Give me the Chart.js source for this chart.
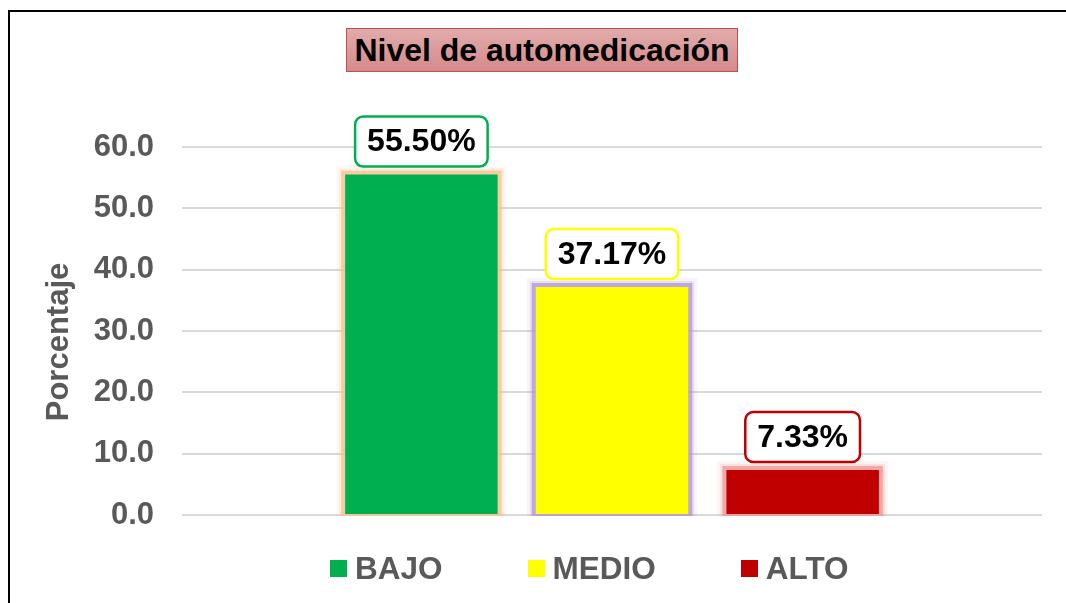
<!DOCTYPE html>
<html lang="es">
  <head>
    <meta charset="UTF-8" />
    <title>Nivel de automedicación</title>
    <style>
      body {
        margin: 0;
        overflow: hidden;
        background: #fff;
        font-family: "Liberation Sans", Arial, sans-serif;
      }
      .container {
        position: relative;
        width: 1066px;
        height: 603px;
      }
      .frame {
        position: absolute;
        left: 8px;
        top: 10px;
        width: 1200px;
        height: 700px;
        border-top: 2px solid #000;
        border-left: 2px solid #000;
      }
      .title {
        position: absolute;
        left: 346px;
        top: 28px;
        width: 390px;
        height: 42px;
        line-height: 43px;
        text-align: center;
        font-weight: bold;
        font-size: 32px;
        color: #000;
        background: linear-gradient(#e2abab, #d58a8a);
        border: 1px solid #c0504d;
      }
      #legend {
        position: absolute;
        left: 330px;
        top: 550px;
      }
      #chart {
        position: absolute;
        left: 0;
        top: 0;
      }
    </style>
    <script src="https://cdn.jsdelivr.net/npm/chart.js"></script>
    <script>
      const categories = ["BAJO", "MEDIO", "ALTO"];
      const values = [55.5, 37.17, 7.33];
      const barColors = ["#00B050", "#FFFF00", "#C00000"];
      const glowColors = ["250,192,144", "177,150,214", "240,150,150"];
      const yTicks = [0, 10, 20, 30, 40, 50, 60];
      const yTitle = "Porcentaje";

      window.addEventListener("DOMContentLoaded", () => {
        const FONT = "'Liberation Sans', Arial, sans-serif";

        // glow around each bar
        const glowPlugin = {
          id: "glow",
          beforeDatasetsDraw(chart) {
            const ctx = chart.ctx;
            chart.data.datasets.forEach((ds, i) => {
              const bar = chart.getDatasetMeta(i).data[0];
              const left = bar.x - bar.width / 2;
              const top = bar.y;
              const w = bar.width;
              const h = bar.base - bar.y;
              const layers = [
                [9, 0.1],
                [6, 0.22],
                [4, 0.75],
              ];
              ctx.save();
              layers.forEach(([d, a]) => {
                ctx.fillStyle = "rgba(" + glowColors[i] + "," + a + ")";
                ctx.fillRect(left - d, top - d, w + 2 * d, h + d + 2);
              });
              ctx.restore();
            });
          },
        };

        // boxed value labels above the bars + y axis title
        const labelPlugin = {
          id: "boxLabels",
          afterDatasetsDraw(chart) {
            const ctx = chart.ctx;
            ctx.save();
            ctx.font = "bold 32px " + FONT;
            ctx.textAlign = "center";
            ctx.textBaseline = "middle";
            chart.data.datasets.forEach((ds, i) => {
              const bar = chart.getDatasetMeta(i).data[0];
              const text = ds.data[0].toFixed(2) + "%";
              const tw = ctx.measureText(text).width;
              const bw = tw + 24;
              const bh = 50;
              const bx = bar.x - bw / 2;
              const by = bar.y - 8 - bh;
              ctx.beginPath();
              ctx.roundRect(bx, by, bw, bh, 8);
              ctx.fillStyle = "#fff";
              ctx.fill();
              ctx.lineWidth = 2.5;
              ctx.strokeStyle = barColors[i];
              ctx.stroke();
              ctx.fillStyle = "#000";
              ctx.fillText(text, bar.x, by + bh / 2 + 1);
            });

            // axis title (sits a bit below the middle of the plot)
            ctx.translate(59, 342);
            ctx.rotate(-Math.PI / 2);
            ctx.font = "bold 31px " + FONT;
            ctx.fillStyle = "#595959";
            ctx.fillText(yTitle, 0, 0);
            ctx.restore();
          },
        };

        const htmlLegendPlugin = {
          id: "htmlLegend",
          afterUpdate(chart) {
            const box = document.getElementById("legend");
            box.innerHTML = "";
            const ul = document.createElement("ul");
            ul.style.display = "flex";
            ul.style.gap = "85px";
            ul.style.margin = 0;
            ul.style.padding = 0;
            ul.style.listStyle = "none";
            chart.data.datasets.forEach((ds) => {
              const li = document.createElement("li");
              li.style.display = "flex";
              li.style.alignItems = "center";
              const sw = document.createElement("span");
              sw.style.display = "inline-block";
              sw.style.width = "17px";
              sw.style.height = "17px";
              sw.style.marginRight = "8px";
              sw.style.background = ds.backgroundColor;
              const p = document.createElement("span");
              p.textContent = ds.label;
              p.style.font = "bold 31.5px " + FONT;
              p.style.color = "#595959";
              li.appendChild(sw);
              li.appendChild(p);
              ul.appendChild(li);
            });
            box.appendChild(ul);
          },
        };

        new Chart(document.getElementById("chart"), {
          type: "bar",
          data: {
            labels: [""],
            datasets: categories.map((c, i) => ({
              label: c,
              data: [values[i]],
              backgroundColor: barColors[i],
              categoryPercentage: 0.665,
              barPercentage: 0.8,
            })),
          },
          options: {
            responsive: false,
            animation: false,
            layout: {
              padding: { left: 37, right: 24, top: 147, bottom: 88 },
            },
            scales: {
              x: { display: false },
              y: {
                min: 0,
                max: 60,
                afterBuildTicks: (scale) => {
                  scale.ticks = yTicks.map((v) => ({ value: v }));
                },
                afterFit: (scale) => {
                  scale.width = 145;
                },
                border: { display: false },
                grid: { color: "#D9D9D9", lineWidth: 2, drawTicks: false },
                ticks: {
                  padding: 28,
                  color: "#595959",
                  font: { family: FONT, size: 31, weight: "bold" },
                  callback: (v) => Number(v).toFixed(1),
                },
              },
            },
            plugins: {
              legend: { display: false },
              tooltip: { enabled: false },
            },
          },
          plugins: [glowPlugin, labelPlugin, htmlLegendPlugin],
        });
      });
    </script>
  </head>
  <body>
    <div class="container">
      <div class="frame"></div>
      <canvas id="chart" width="1066" height="603"></canvas>
      <div class="title">Nivel de automedicación</div>
      <div id="legend"></div>
    </div>
  </body>
</html>
